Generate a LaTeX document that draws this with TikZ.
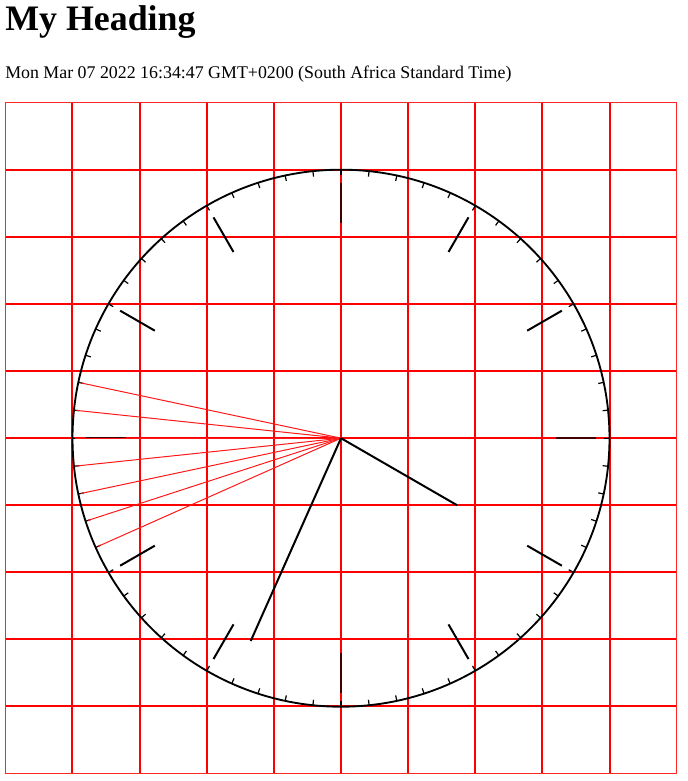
\documentclass[tikz,border=0pt]{standalone}
\usepackage{fontspec}
\setmainfont{Liberation Serif}
\usetikzlibrary{calc}
\begin{document}
\begin{tikzpicture}[x=0.75pt,y=0.75pt,
  gridline/.style={red, line width=1.5pt},
  border/.style={red!85, line width=0.75pt},
  clockline/.style={black, line width=1.4pt},
  minutetick/.style={black, line width=0.9pt},
  hourtick/.style={black!75!red, line width=1.5pt},
  hand/.style={black, line width=1.5pt},
  secline/.style={red!90, line width=0.75pt},
  title/.style={anchor=base west, inner sep=0pt, font=\fontsize{26.9}{30}\selectfont\bfseries},
  datetext/.style={anchor=base west, inner sep=0pt, font=\fontsize{13.4}{16}\selectfont}]
\useasboundingbox (0,0) rectangle (687,781);
\node[title] (heading) at (5,750.3) {My Heading};
\node[datetext] (date) at (5,702) {Mon Mar 07 2022 16:34:47 GMT+0200 (South Africa Standard Time)};
% grid
\foreach \i in {1,...,9} {
  \draw[gridline] (5.3+\i*67.14,7.7) -- (5.3+\i*67.14,678.3);
  \draw[gridline] (5.3,7.7+\i*67.06) -- (676.7,7.7+\i*67.06);
}
\draw[border] (5.3,7.7) rectangle (676.7,678.3);
% clock
\coordinate (c) at (341,342.8);
\draw[clockline] (c) circle[radius=268.5];
\foreach \m in {0,...,59} {
  \draw[minutetick,shift={(c)}] (90-6*\m:268.5) -- (90-6*\m:263);
}
\foreach \h in {0,...,11} {
  \pgfmathtruncatemacro{\onaxis}{mod(\h,3)==0}
  \ifnum\onaxis=1
    \draw[hourtick,shift={(c)}] (90-30*\h:255) -- (90-30*\h:215);
  \else
    \draw[hand,shift={(c)}] (90-30*\h:255) -- (90-30*\h:215);
  \fi
}
\foreach \s in {41,...,47} {
  \coordinate (s\s) at ($(c)+(90-6*\s:266)$);
  \draw[secline] (c) -- (s\s);
}
\coordinate (hourtip) at ($(c)+(-30:134)$);
\coordinate (minutetip) at ($(c)+(-114:222)$);
\draw[hand] (c) -- (hourtip);
\draw[hand] (c) -- (minutetip);
\end{tikzpicture}
\end{document}
